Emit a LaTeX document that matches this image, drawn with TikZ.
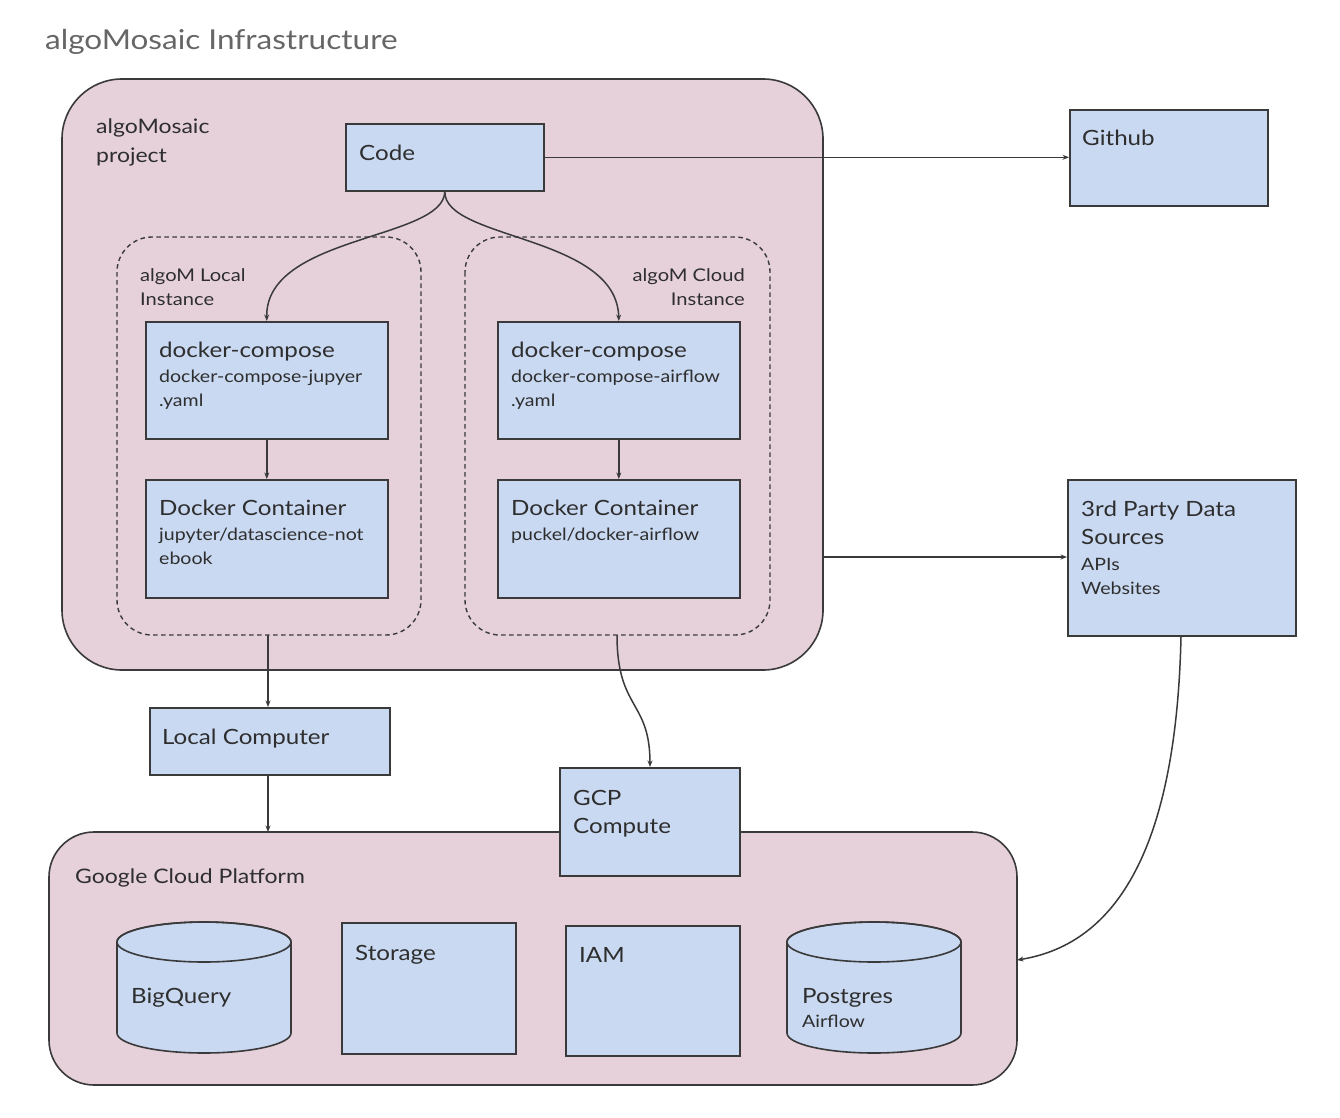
\documentclass[tikz,border=0pt]{standalone}
\usepackage{fontspec}
\setmainfont{Lato}[FakeStretch=1.15]
\usetikzlibrary{arrows.meta}
\definecolor{pinkbg}{HTML}{E6D1DA}
\definecolor{boxblue}{HTML}{C9D9F2}
\definecolor{edge}{HTML}{3A3A3A}
\definecolor{txt}{HTML}{2E2E2E}
\definecolor{titlegray}{HTML}{666666}
\tikzset{
  box/.style={draw=edge, fill=boxblue, line width=1.6pt, inner sep=0pt, anchor=north west},
  group/.style={draw=edge, fill=pinkbg, line width=1.6pt},
  dashgroup/.style={draw=edge, line width=1.4pt, dash pattern=on 4.5pt off 3.5pt},
  conn/.style={draw=edge, line width=1.5pt, -{Stealth[length=6.5pt,width=5pt]}},
  lbl/.style={anchor=base west, inner sep=0pt, text=txt},
  big/.style={font=\fontsize{21}{25}\selectfont},
  mid/.style={font=\fontsize{20}{24}\selectfont},
  small/.style={font=\fontsize{17}{20}\selectfont},
  tiny/.style={font=\fontsize{17.5}{21}\selectfont},
}
\begin{document}
\begin{tikzpicture}[x=1pt,y=-1pt]
\useasboundingbox (0,0) rectangle (1340,1118);
\fill[white] (0,0) rectangle (1340,1118);

% title
\node[lbl, text=titlegray, font=\fontsize{27.4}{32}\selectfont] (title) at (45,50) {algoMosaic Infrastructure};

% project group
\draw[group, rounded corners=60pt] (62,79) rectangle (823,670);
\coordinate (projR) at (823,557);
\node[lbl, mid] (projA) at (96,134) {algoMosaic};
\node[lbl, mid] (projB) at (96,163) {project};

% dashed instances
\draw[dashgroup, rounded corners=35pt] (117,237) rectangle (421,635);
\draw[dashgroup, rounded corners=35pt] (465,237) rectangle (770,635);
\coordinate (locB) at (268,635);
\coordinate (cldB) at (617,635);
\node[lbl, tiny] (locA) at (140,281) {algoM Local};
\node[lbl, tiny] (locI) at (140,305) {Instance};
\node[lbl, tiny, anchor=base east] (cldA) at (745,281) {algoM Cloud};
\node[lbl, tiny, anchor=base east] (cldI) at (745,305) {Instance};

% code
\node[box, minimum width=198pt, minimum height=67pt] (code) at (345,123) {};
\node[lbl, big] (codeT) at (359,161) {Code};

% github
\node[box, minimum width=198pt, minimum height=96pt] (github) at (1069,109) {};
\node[lbl, big] (githubT) at (1082,146) {Github};

% local compose / container
\node[box, minimum width=242pt, minimum height=117pt] (ldc) at (145,321) {};
\node[lbl, big] (ldcA) at (159,357) {docker-compose};
\node[lbl, small] (ldcB) at (159,382) {docker-compose-jupyer};
\node[lbl, small] (ldcC) at (159,406) {.yaml};
\node[box, minimum width=242pt, minimum height=118pt] (lct) at (145,479) {};
\node[lbl, big] (lctA) at (159,515) {Docker Container};
\node[lbl, small] (lctB) at (159,540) {jupyter/datascience-not};
\node[lbl, small] (lctC) at (159,564) {ebook};

% cloud compose / container
\node[box, minimum width=242pt, minimum height=117pt] (cdc) at (497,321) {};
\node[lbl, big] (cdcA) at (511,357) {docker-compose};
\node[lbl, small] (cdcB) at (511,382) {docker-compose-airflow};
\node[lbl, small] (cdcC) at (511,406) {.yaml};
\node[box, minimum width=242pt, minimum height=118pt] (cct) at (497,479) {};
\node[lbl, big] (cctA) at (511,515) {Docker Container};
\node[lbl, small] (cctB) at (511,540) {puckel/docker-airflow};

% 3rd party
\node[box, minimum width=228pt, minimum height=156pt] (third) at (1067,479) {};
\node[lbl, big] (thirdA) at (1081,516) {3rd Party Data};
\node[lbl, big] (thirdB) at (1081,544) {Sources};
\node[lbl, small] (thirdC) at (1081,570) {APIs};
\node[lbl, small] (thirdD) at (1081,594) {Websites};

% GCP platform
\draw[group, rounded corners=45pt] (49,832) rectangle (1017,1085);
\coordinate (gcpTop) at (268,832);
\coordinate (gcpR) at (1017,960);
\node[lbl, mid] (gcpT) at (75,883) {Google Cloud Platform};

% local computer
\node[box, minimum width=240pt, minimum height=67pt] (lcomp) at (149,707) {};
\node[lbl, big] (lcompT) at (162,744) {Local Computer};

% GCP compute
\node[box, minimum width=180pt, minimum height=108pt] (gce) at (559,767) {};
\node[lbl, big] (gceA) at (573,805) {GCP};
\node[lbl, big] (gceB) at (573,833) {Compute};

% BigQuery cylinder
\draw[draw=edge, fill=boxblue, line width=1.6pt]
  (117,942) -- (117,1033) arc[start angle=180, end angle=0, x radius=87, y radius=20]
  -- (291,942) arc[start angle=0, end angle=-180, x radius=87, y radius=20] -- cycle;
\draw[draw=edge, line width=1.6pt] (204,942) ellipse [x radius=87, y radius=20];
\node[lbl, big] (bqT) at (131,1003) {BigQuery};

% Storage, IAM
\node[box, minimum width=174pt, minimum height=131pt] (stor) at (341,922) {};
\node[lbl, big] (storT) at (355,960) {Storage};
\node[box, minimum width=174pt, minimum height=130pt] (iam) at (565,925) {};
\node[lbl, big] (iamT) at (579,962) {IAM};

% Postgres cylinder
\draw[draw=edge, fill=boxblue, line width=1.6pt]
  (787,942) -- (787,1033) arc[start angle=180, end angle=0, x radius=87, y radius=20]
  -- (961,942) arc[start angle=0, end angle=-180, x radius=87, y radius=20] -- cycle;
\draw[draw=edge, line width=1.6pt] (874,942) ellipse [x radius=87, y radius=20];
\node[lbl, big] (pgA) at (802,1003) {Postgres};
\node[lbl, small] (pgB) at (802,1027) {Airflow};

% connectors
\draw[conn] (code.east) -- (github.west |- code.east);
\draw[conn] (code.south) .. controls (444,240) and (265,235) .. (ldc.north);
\draw[conn] (code.south) .. controls (444,240) and (617,235) .. (cdc.north);
\draw[conn] (ldc.south) -- (lct.north);
\draw[conn] (cdc.south) -- (cct.north);
\draw[conn] (locB) -- (lcomp.north -| locB);
\draw[conn] (lcomp.south -| gcpTop) -- (gcpTop);
\draw[conn] (cldB) .. controls (617,710) and (650,700) .. (gce.north -| 650,0);
\draw[conn] (projR) -- (third.west |- projR);
\draw[conn] (third.south -| 1181,0) .. controls (1176,860) and (1110,945) .. (gcpR);
\end{tikzpicture}
\end{document}
